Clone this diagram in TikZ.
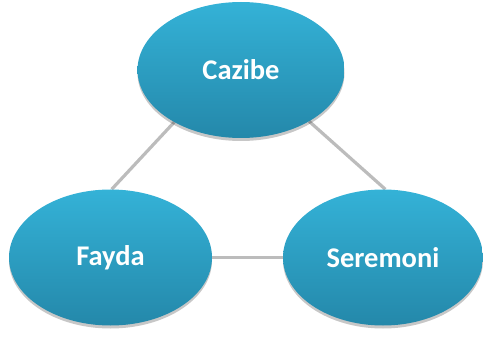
\documentclass[tikz,border=0pt]{standalone}
\usepackage{fontspec}
\setmainfont{Carlito}
\usetikzlibrary{shapes.geometric,shadows,backgrounds}
\definecolor{bubtop}{RGB}{52,178,215}
\definecolor{bubbot}{RGB}{36,136,170}
\definecolor{linkgray}{RGB}{188,188,188}
\tikzset{
  bubble/.style={ellipse, minimum width=#1, minimum height=136pt, inner sep=0pt,
    top color=bubtop, bottom color=bubbot, draw=none,
    text=white, font=\bfseries\fontsize{28.5}{32}\selectfont,
    drop shadow={shadow xshift=0pt, shadow yshift=-3pt, opacity=0.22, fill=black}},
  bubble/.default=204pt,
  link/.style={draw=linkgray, line width=3.2pt}
}
\begin{document}
\begin{tikzpicture}[x=1pt,y=-1pt]
\useasboundingbox (0,0) rectangle (483,337);
\node[bubble=207pt] (cazibe) at (241,70) {Cazibe};
\node[bubble=203pt] (fayda) at (110.5,257.5) {Fayda};
\node[bubble=200pt] (seremoni) at (383,257.5) {Seremoni};
\begin{scope}[on background layer]
  \draw[link] (cazibe.218.5) -- (fayda.89);
  \draw[link] (cazibe.-37) -- (seremoni.88);
  \draw[link] (fayda.center) -- (seremoni.center);
\end{scope}
\end{tikzpicture}
\end{document}
